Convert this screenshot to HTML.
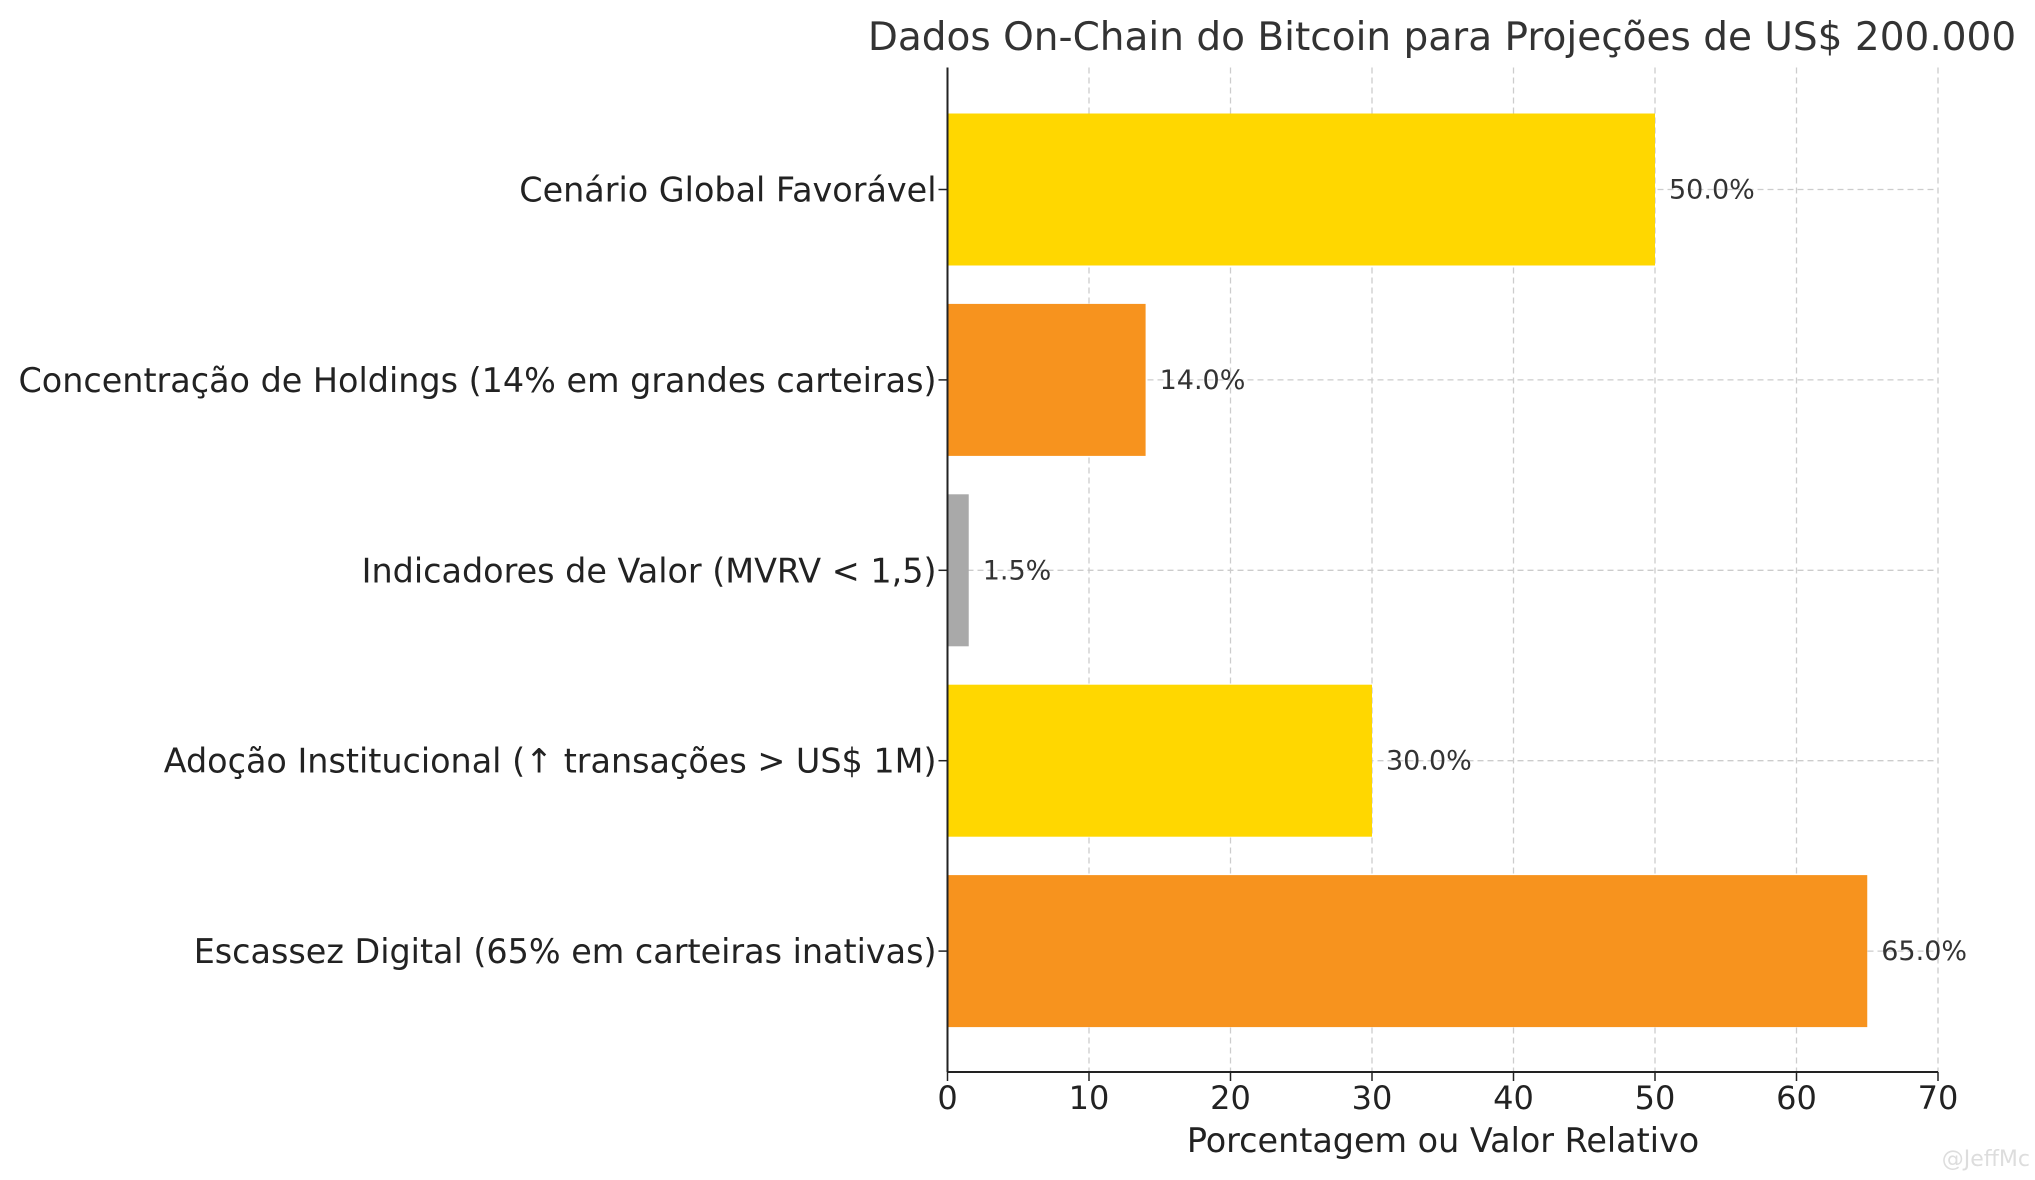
<!DOCTYPE html>
<html><head><meta charset="utf-8"><style>
html,body{margin:0;padding:0;background:#fff;}
svg{display:block;font-family:"DejaVu Sans","Liberation Sans",sans-serif;}
</style></head><body>
<svg id="chart" width="2035" height="1180" viewBox="0 0 2035 1180">
<text x="1442" y="50" font-size="39" fill="#333" text-anchor="middle">Dados On-Chain do Bitcoin para Projeções de US$ 200.000</text>
<g id="grid"></g>
<g id="bars"></g>
<g id="axes"></g>
<text x="1443" y="1152" font-size="33.4" fill="#222" text-anchor="middle">Porcentagem ou Valor Relativo</text>
<text x="2030" y="1166" font-size="22" fill="#ddd" text-anchor="end">@JeffMc</text>
</svg>
<script>
const categories = ["Cenário Global Favorável","Concentração de Holdings (14% em grandes carteiras)","Indicadores de Valor (MVRV < 1,5)","Adoção Institucional (↑ transações > US$ 1M)","Escassez Digital (65% em carteiras inativas)"];
const values = [50, 14, 1.5, 30, 65];
const colors = ["#FFD700","#F7931E","#A9A9A9","#FFD700","#F7931E"];
const ticks = [0,10,20,30,40,50,60,70];

const NS="http://www.w3.org/2000/svg";
const x0=947.5, x1=1938, yTop=67.5, yBottom=1072;
const xs=v=>x0+(v/70)*(x1-x0);
const yc=i=>189.5+i*190.4;
const bh=152;
function mk(t,a,p){const e=document.createElementNS(NS,t);for(const k in a)e.setAttribute(k,a[k]);p.appendChild(e);return e;}
const grid=document.getElementById('grid'),bars=document.getElementById('bars'),axes=document.getElementById('axes');
ticks.forEach(t=>{
  const l=mk('line',{x1:xs(t),x2:xs(t),y1:yTop,y2:yBottom,stroke:'#ccc','stroke-dasharray':'6,4','stroke-width':1.3},grid);
  
  
  const tk=mk('line',{x1:xs(t),x2:xs(t),y1:yBottom,y2:yBottom+9,stroke:'#222','stroke-width':1.5},axes);
  
  
  const tx=mk('text',{x:xs(t),y:1109,'font-size':32,fill:'#222','text-anchor':'middle'},axes);
  tx.textContent=t;
  
  
});
categories.forEach((c,i)=>{
  const g=mk('line',{x1:x0,x2:x1,y1:yc(i),y2:yc(i),stroke:'#ccc','stroke-dasharray':'6,4','stroke-width':1.3},grid);
  
  
  const r=mk('rect',{x:x0,y:yc(i)-bh/2,width:xs(values[i])-x0,height:bh,fill:colors[i]},bars);
  
  
  const v=mk('text',{x:xs(values[i])+14,y:yc(i)+9,'font-size':27,fill:'#333'},bars);
  v.textContent=values[i].toFixed(1)+'%';
  
  
  const tk=mk('line',{x1:x0-9,x2:x0,y1:yc(i),y2:yc(i),stroke:'#222','stroke-width':1.5},axes);
  
  
  const tl=mk('text',{x:x0-11,y:yc(i)+12,'font-size':33.4,fill:'#222','text-anchor':'end'},axes);
  tl.textContent=c;
  
  
});
const ya=mk('line',{x1:x0,x2:x0,y1:yTop,y2:yBottom,stroke:'#222','stroke-width':2},axes);


const xa=mk('line',{x1:x0,x2:x1,y1:yBottom,y2:yBottom,stroke:'#222','stroke-width':2},axes);


</script>
</body></html>
